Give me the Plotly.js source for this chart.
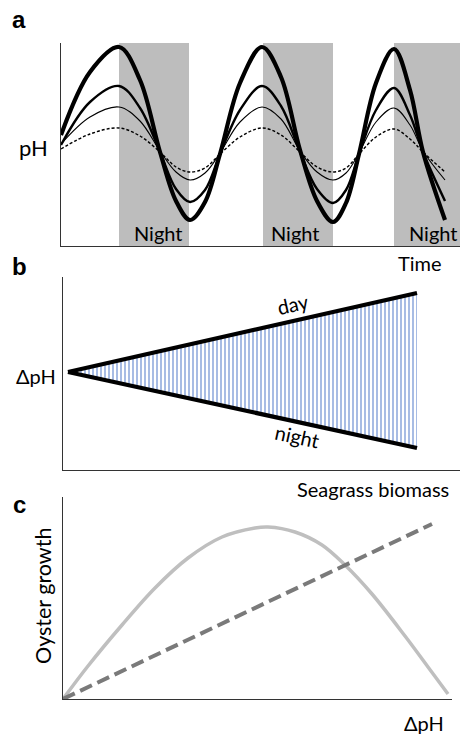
<!DOCTYPE html>
<html>
<head>
<meta charset="utf-8">
<script src="https://cdn.plot.ly/plotly-3.0.1.min.js"></script>
<style>
html,body{margin:0;padding:0;background:#fff;}
#chart{width:460px;height:734px;}
</style>
</head>
<body>
<div id="chart"></div>
<script>
// ---------- Panel a: diel pH cycles ----------
var timeA = [61, 90, 119, 140, 160, 176, 190, 205, 220, 240, 262, 281, 300, 317, 333, 346, 359, 376, 394, 410, 423, 445];
var pHHigh    = [111, 174, 199, 166, 94, 45, 26, 44, 92, 163, 199, 169, 96, 45, 24, 43, 92, 163, 197, 156, 94, 26];
var pHMidHigh = [101, 144, 160, 138, 94, 57, 44, 56, 92, 136, 160, 140, 94, 57, 43, 56, 92, 136, 158, 131, 94, 45];
var pHMidLow  = [102, 129, 139, 125, 95, 74, 66, 73, 93, 124, 139, 127, 95, 74, 66, 73, 93, 124, 138, 121, 95, 66];
var pHLow     = [97, 112, 118, 110, 94, 79, 74, 78, 92, 109, 118, 111, 94, 79, 74, 78, 92, 109, 117, 107, 94, 74];
var nightStart = [119, 263, 394];
var nightEnd   = [189, 333, 460];
var nightLabelX = [158, 295, 433];
var nightLabel = "Night";

// ---------- Panel b: delta pH vs seagrass biomass ----------
var biomass = [5, 354];
var dayPH   = [98, 177];
var nightPH = [98, 22];

// ---------- Panel c: oyster growth vs delta pH ----------
var dPH_curve   = [0, 25, 59, 92, 125, 159, 192, 205, 232, 259, 282, 309, 342, 365, 385];
var growthCurve = [0, 33, 74, 111, 141, 162, 171, 172, 167, 154, 134, 105, 63, 32, 5];
var dPH_line   = [0, 369];
var growthLine = [0, 175];

var W = 460, H = 734;
function fx(p){ return p / W; }
function fy(p){ return 1 - p / H; }

var FONT = "Lato, 'Open Sans', sans-serif";
var traces = [
  {x: timeA, y: pHLow, mode: 'lines', line: {color: '#000', width: 1.4, dash: '3px,2px', shape: 'spline'}, xaxis: 'x', yaxis: 'y', hoverinfo: 'skip'},
  {x: timeA, y: pHMidLow, mode: 'lines', line: {color: '#000', width: 1.1, shape: 'spline'}, xaxis: 'x', yaxis: 'y', hoverinfo: 'skip'},
  {x: timeA, y: pHMidHigh, mode: 'lines', line: {color: '#000', width: 2.4, shape: 'spline'}, xaxis: 'x', yaxis: 'y', hoverinfo: 'skip'},
  {x: timeA, y: pHHigh, mode: 'lines', line: {color: '#000', width: 4.2, shape: 'spline'}, xaxis: 'x', yaxis: 'y', hoverinfo: 'skip'},
  // panel b fill
  {x: [biomass[0], biomass[1], biomass[1], biomass[0]], y: [dayPH[0], dayPH[1], nightPH[1], nightPH[0]],
   mode: 'lines', fill: 'toself', line: {width: 0, color: 'rgba(0,0,0,0)'},
   fillcolor: 'rgba(0,0,0,0)',
   fillpattern: {shape: '|', fgcolor: '#6d8fd3', bgcolor: '#ffffff', size: 4, solidity: 0.3},
   xaxis: 'x2', yaxis: 'y2', hoverinfo: 'skip'},
  {x: biomass, y: dayPH, mode: 'lines', line: {color: '#000', width: 4.2}, xaxis: 'x2', yaxis: 'y2', hoverinfo: 'skip'},
  {x: biomass, y: nightPH, mode: 'lines', line: {color: '#000', width: 4.2}, xaxis: 'x2', yaxis: 'y2', hoverinfo: 'skip'},
  // panel c
  {x: dPH_curve, y: growthCurve, mode: 'lines', line: {color: '#bfbfbf', width: 3.5, shape: 'spline'}, xaxis: 'x3', yaxis: 'y3', hoverinfo: 'skip'},
  {x: dPH_line, y: growthLine, mode: 'lines', line: {color: '#7a7a7a', width: 4, dash: '13px,6px'}, xaxis: 'x3', yaxis: 'y3', hoverinfo: 'skip'}
];

var shapes = nightStart.map(function(s, i){
  return {type: 'rect', xref: 'x', yref: 'y domain', x0: s, x1: nightEnd[i], y0: 0, y1: 1,
          fillcolor: '#bdbdbd', line: {width: 0}, layer: 'below'};
});

var axBase = {showgrid: false, zeroline: false, showticklabels: false, ticks: '', showline: true,
              linecolor: '#333', linewidth: 1.2, fixedrange: true};
function ax(o){ var r = {}; for (var k in axBase) r[k] = axBase[k]; for (var k2 in o) r[k2] = o[k2]; return r; }

var annFont = {family: FONT, size: 20, color: '#000'};
var bold = {family: "'Liberation Sans', Arial, sans-serif", size: 24, color: '#000'};
function ann(text, x, y, font, extra){
  var a = {text: text, x: fx(x), y: fy(y), xref: 'paper', yref: 'paper', showarrow: false,
           xanchor: 'center', yanchor: 'middle', font: font};
  if (extra) for (var k in extra) a[k] = extra[k];
  return a;
}
var annotations = [
  ann('<b>a</b>', 19, 20, bold),
  ann('pH', 33, 148, {family: FONT, size: 22, color: '#000'}),
  ann('Time', 420, 263, annFont),
  ann('<b>b</b>', 19, 266, bold),
  ann('ΔpH', 36, 376, annFont),
  ann('day', 293, 304, annFont, {textangle: -12.7}),
  ann('night', 297, 436, annFont, {textangle: 12.3}),
  ann('Seagrass biomass', 373, 489, annFont),
  ann('<b>c</b>', 19, 504, bold),
  ann('Oyster growth', 43, 596, {family: FONT, size: 21.5, color: '#000'}, {textangle: -90}),
  ann('ΔpH', 424, 723, annFont)
];
nightLabelX.forEach(function(x){
  annotations.push({text: nightLabel, x: x, y: fy(233), xref: 'x', yref: 'paper', showarrow: false,
                    xanchor: 'center', yanchor: 'middle', font: annFont});
});

var layout = {
  width: W, height: H,
  margin: {l: 0, r: 0, t: 0, b: 0},
  paper_bgcolor: '#fff', plot_bgcolor: 'rgba(0,0,0,0)',
  showlegend: false,
  xaxis:  ax({domain: [fx(61), 1], range: [61, 460], anchor: 'y'}),
  yaxis:  ax({domain: [fy(246), fy(43)], range: [0, 203], anchor: 'x'}),
  xaxis2: ax({domain: [fx(63), 1], range: [0, 397], anchor: 'y2'}),
  yaxis2: ax({domain: [fy(470), fy(277)], range: [0, 193], anchor: 'x2'}),
  xaxis3: ax({domain: [fx(63), fx(452)], range: [0, 389], anchor: 'y3'}),
  yaxis3: ax({domain: [fy(699), fy(497)], range: [0, 202], anchor: 'x3'}),
  shapes: shapes,
  annotations: annotations
};

Plotly.newPlot('chart', traces, layout, {displayModeBar: false, staticPlot: true});
</script>
</body>
</html>
